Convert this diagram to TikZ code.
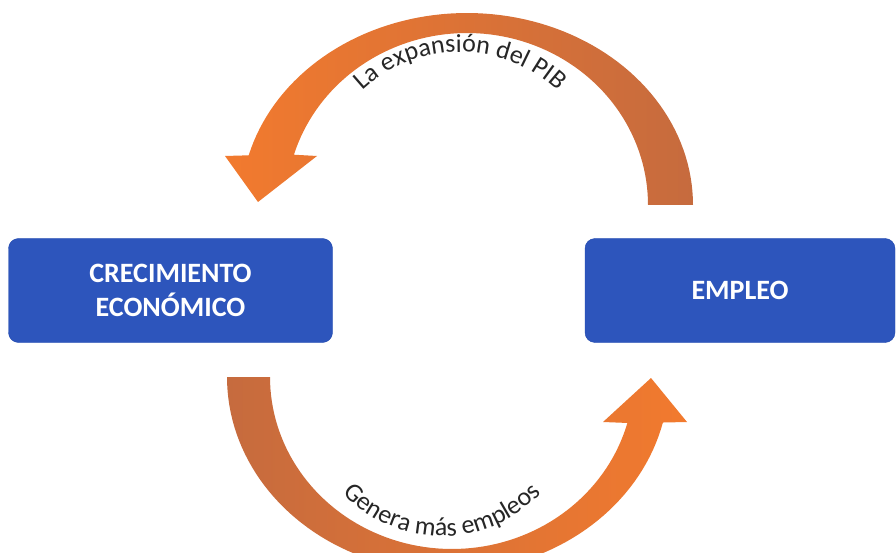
\documentclass[tikz,border=0pt]{standalone}
\usepackage{fontspec}
\setmainfont{Carlito}
\usetikzlibrary{decorations.text}
\definecolor{cajaazul}{HTML}{2D55BC}
\definecolor{cajaborde}{HTML}{2149AE}
\definecolor{naranja}{HTML}{F27A2E}
\definecolor{ocre}{HTML}{C66B3E}
\tikzset{
  caja/.style={draw=cajaborde, fill=cajaazul, rounded corners=10pt, text=white,
    font=\fontsize{28}{34}\selectfont\bfseries, align=center, inner sep=0pt},
  rotulo/.style={decorate, decoration={text along path, text align=center,
    text={|\fontsize{26}{30}\selectfont\color{black!85}|#1}}}
}
\begin{document}
\begin{tikzpicture}[x=1pt, y=1pt]
\useasboundingbox (0,0) rectangle (896,552);
\clip (0,0) rectangle (896,552);
\node[caja, minimum width=324pt, minimum height=104pt] (crec) at (170.5,261.5) {CRECIMIENTO\\ECONÓMICO};
\node[caja, minimum width=310pt, minimum height=104pt] (empl) at (740,261.5) {EMPLEO};
\shade[left color=naranja, right color=ocre]
  plot[domain=0:165, samples=80] ({467+226*cos(\x)}, {347+192*sin(\x)})
  -- (225,396) -- (258,350) -- (317,396)
  -- plot[domain=163:0, samples=80] ({467+181*cos(\x)}, {347+172*sin(\x)}) -- cycle;
\shade[left color=ocre, right color=naranja]
  plot[domain=180:346.5, samples=80] ({448+221*cos(\x)}, {175+195*sin(\x)})
  -- (687,130) -- (651,174) -- (603,130)
  -- plot[domain=344.5:180, samples=80] ({452+182*cos(\x)}, {175+172*sin(\x)}) -- cycle;
\path[rotulo={La expansión del PIB}] (460,357) ++(145:143) arc[start angle=145, end angle=35, radius=143];
\path[rotulo={Genera más empleos}] (442,152) ++(210:136) arc[start angle=210, end angle=330, radius=136];
\end{tikzpicture}
\end{document}
